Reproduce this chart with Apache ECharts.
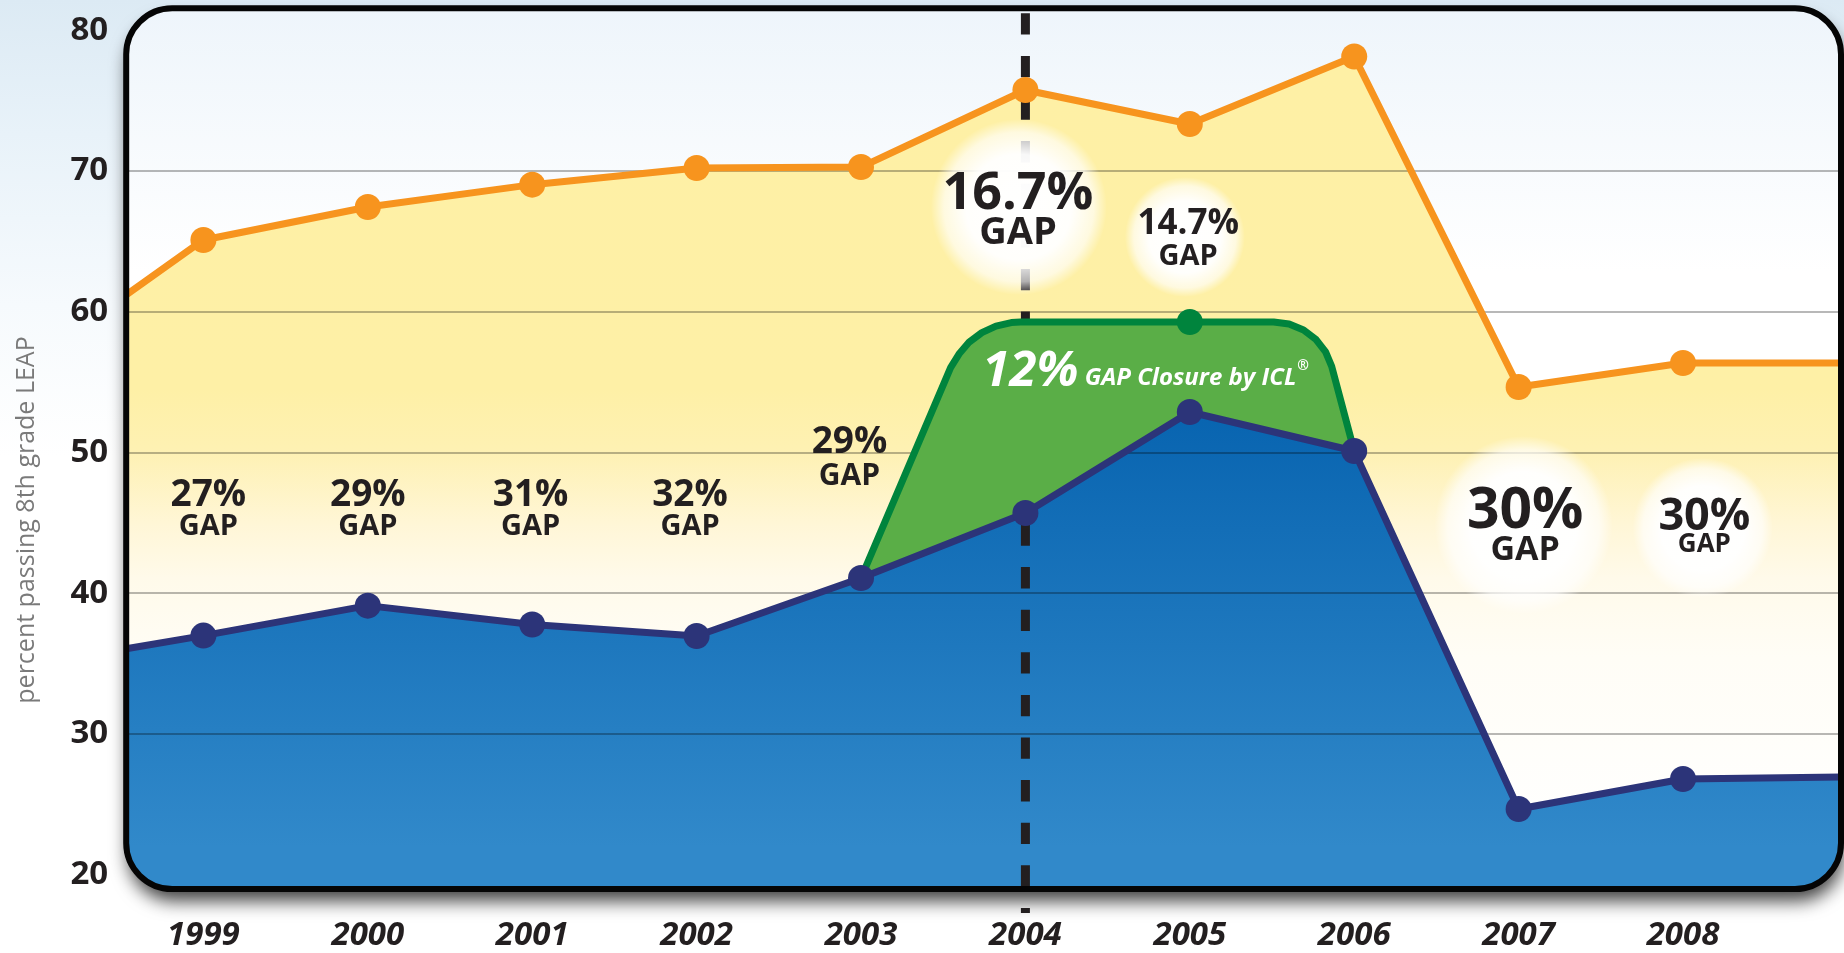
<!DOCTYPE html>
<html>
<head>
<meta charset="utf-8">
<script src="https://cdn.jsdelivr.net/npm/echarts@6/dist/echarts.min.js"></script>
<style>
html, body { margin: 0; padding: 0; }
body { background: linear-gradient(180deg, #dceaf4 0%, #e8f2f9 14%, #f6fafd 32%, #ffffff 48%); }
#c { width: 1844px; height: 953px; }
</style>
</head>
<body>
<div id="c"></div>
<script>
// ---------------- data ----------------
const years = [1999, 2000, 2001, 2002, 2003, 2004, 2005, 2006, 2007, 2008];
const upperValues = [65.1, 67.44, 69.03, 70.21, 70.28, 75.76, 73.34, 78.14, 54.65, 56.35];   // orange line
const lowerValues = [36.98, 39.11, 37.77, 36.95, 41.07, 45.69, 52.87, 50.1, 24.66, 26.79];   // blue line
const upperEdgeValues = [61.2, 56.35];   // where the orange line meets the left / right frame
const lowerEdgeValues = [36.05, 26.93];  // where the blue line meets the left / right frame
// green "gap closure" outline (year, value), from the 2003 blue point to the 2006 blue point
const closureX = [2003, 2003.545, 2003.596, 2003.658, 2003.735, 2003.821, 2003.914, 2003.97, 2005,
                  2005.51, 2005.604, 2005.692, 2005.768, 2005.826, 2005.863, 2006];
const closureY = [41.07, 56.03, 56.99, 57.84, 58.51, 58.98, 59.23, 59.27, 59.27,
                  59.27, 59.13, 58.7, 58.02, 57.14, 56.11, 50.1];
const closureDotYear = 2005;
const markerYear = 2004;
const yTickValues = [20, 30, 40, 50, 60, 70, 80];
const gridLineValues = [30, 40, 50, 60, 70];
const gapTexts = ['27%', '29%', '31%', '32%', '29%', '16.7%', '14.7%', '30%', '30%'];
const closureTexts = ['12%', 'GAP Closure by ICL', '®'];
const yAxisTitle = 'percent passing 8th grade LEAP';

// ---------------- layout / style ----------------
const FONT = "'Open Sans', 'Noto Sans', sans-serif";
const X_MIN = 1998.5304, X_MAX = 2008.961;
const Y_MIN = 18.97, Y_MAX = 81.564;
const AREA_BASE = 21.95;
const FRAME = { x: 126.2, y: 8.3, w: 1714.8, h: 880.7, r: 46 };
const TXT = '#231f20';

function withEdges(vals, edges) {
  const pts = [[X_MIN, edges[0]]];
  years.forEach((y, i) => pts.push([y, vals[i]]));
  pts.push([X_MAX, edges[1]]);
  return pts;
}
const upperData = withEdges(upperValues, upperEdgeValues);
const lowerData = withEdges(lowerValues, lowerEdgeValues);
const closureData = closureX.map((x, i) => [x, closureY[i]]);

// annotation placement (data coords) and font sizes
const gapPlace = [
  { x: 1999.03, y: 45.91, p: 37, g: 29, lp: 34, lg: 30 },
  { x: 2000, y: 45.91, p: 37, g: 29, lp: 34, lg: 30 },
  { x: 2000.99, y: 45.91, p: 37, g: 29, lp: 34, lg: 30 },
  { x: 2001.96, y: 45.91, p: 37, g: 29, lp: 34, lg: 30 },
  { x: 2002.93, y: 49.53, p: 37, g: 30, lp: 34, lg: 34 },
  { x: 2003.955, y: 67.16, p: 52, g: 38, lp: 44, lg: 34 },
  { x: 2004.99, y: 65.06, p: 35, g: 29, lp: 33, lg: 33 },
  { x: 2007.04, y: 44.63, p: 57, g: 34, lp: 44, lg: 32 },
  { x: 2008.13, y: 44.63, p: 45, g: 26, lp: 34, lg: 22 }
];
const glowPlace = [
  { x: 2003.96, y: 67.44, s: 176 },
  { x: 2004.97, y: 65.31, s: 120 },
  { x: 2007.03, y: 44.84, s: 178 },
  { x: 2008.12, y: 44.63, s: 140 }
];
const closurePlace = { x: 2003.736, y: 55.71 };

const G = echarts.graphic;
const yellowFill = new G.LinearGradient(0, 0, 0, 1, [
  { offset: 0, color: '#fef0a5' }, { offset: 0.42, color: '#fef0a6' },
  { offset: 0.5, color: '#fef1b3' }, { offset: 0.59, color: '#fff6d6' },
  { offset: 0.66, color: '#fffaea' }, { offset: 0.76, color: '#fffdf6' },
  { offset: 1, color: '#ffffff' }
]);
const blueFill = new G.LinearGradient(0, 0, 0, 1, [
  { offset: 0, color: '#0864b0' }, { offset: 1, color: '#3189ca' }
]);
const glowFill = new G.RadialGradient(0.5, 0.5, 0.5, [
  { offset: 0, color: 'rgba(255,255,255,1)' },
  { offset: 0.6, color: 'rgba(255,255,255,0.97)' },
  { offset: 0.85, color: 'rgba(255,255,255,0.65)' },
  { offset: 1, color: 'rgba(255,255,255,0)' }
]);
const frameFill = new G.LinearGradient(0, 0, 0, 1, [
  { offset: 0, color: '#eef5fb' }, { offset: 0.3, color: '#ffffff' },
  { offset: 0.9494, color: '#ffffff' }, { offset: 0.9495, color: '#3189ca' },
  { offset: 1, color: '#3189ca' }
]);

const dotSize = (v) => (Number.isInteger(v[0]) ? 26 : 0);

const option = {
  animation: false,
  backgroundColor: 'transparent',
  textStyle: { fontFamily: FONT },
  grid: { left: FRAME.x, right: 1844 - (FRAME.x + FRAME.w), top: FRAME.y, bottom: 953 - (FRAME.y + FRAME.h), containLabel: false, outerBoundsMode: 'none' },
  xAxis: {
    type: 'value', min: X_MIN, max: X_MAX, z: 3,
    axisLine: { show: false },
    axisTick: { show: false, customValues: years },
    splitLine: { show: false },
    axisLabel: {
      customValues: years, formatter: (v) => String(v), margin: 30,
      color: TXT, fontSize: 33, fontWeight: 'bold', fontStyle: 'italic', fontFamily: FONT
    }
  },
  yAxis: {
    type: 'value', min: Y_MIN, max: Y_MAX, z: 3,
    axisLine: { show: false },
    axisTick: { show: false, customValues: gridLineValues },
    splitLine: { show: true, lineStyle: { color: 'rgba(0,0,0,0.28)', width: 2 } },
    axisLabel: {
      customValues: yTickValues, formatter: (v) => String(v), margin: 18,
      color: TXT, fontSize: 33, fontWeight: 'bold', fontFamily: FONT
    }
  },
  graphic: [
    {
      type: 'rect', z: 0, silent: true,
      shape: { x: FRAME.x, y: FRAME.y, width: FRAME.w, height: FRAME.h, r: FRAME.r },
      style: { fill: frameFill, shadowBlur: 18, shadowColor: 'rgba(0,0,0,0.75)', shadowOffsetY: 12, shadowOffsetX: 2 }
    },
    {
      type: 'rect', z: 30, silent: true,
      shape: { x: FRAME.x, y: FRAME.y, width: FRAME.w, height: FRAME.h, r: FRAME.r },
      style: { fill: 'none', stroke: '#050505', lineWidth: 6 }
    },
    {
      type: 'text', z: 30, silent: true, x: 27, y: 520, rotation: Math.PI / 2,
      style: { text: yAxisTitle, fill: '#7a7a7a', fontSize: 25, fontFamily: FONT, align: 'center', verticalAlign: 'middle' }
    }
  ],
  series: [
    { // yellow area under orange line
      name: 'upperArea', type: 'line', z: 1, data: upperData, showSymbol: false, silent: true,
      lineStyle: { width: 0, opacity: 0 }, areaStyle: { color: yellowFill, opacity: 1, origin: AREA_BASE }
    },
    { // blue area under navy line
      name: 'lowerArea', type: 'line', z: 2, data: lowerData, showSymbol: false, silent: true,
      lineStyle: { width: 0, opacity: 0 }, areaStyle: { color: blueFill, opacity: 1, origin: AREA_BASE }
    },
    { // dashed 2004 marker line
      name: 'marker', type: 'line', z: 4, clip: false, silent: true, showSymbol: false,
      data: [[markerYear, 81.21], [markerYear, 17.26]],
      lineStyle: { color: TXT, width: 9, type: [21.3, 21.3], cap: 'butt' }
    },
    { // green gap-closure band
      name: 'closureBand', type: 'custom', z: 5, silent: true,
      data: [[closureX[0], closureY[0]]],
      renderItem: function (params, api) {
        const pts = closureData.map((p) => api.coord(p));
        const i0 = years.indexOf(closureX[0]);
        const i1 = years.indexOf(closureX[closureX.length - 1]);
        for (let i = i1; i >= i0; i--) pts.push(api.coord([years[i], lowerValues[i]]));
        return { type: 'polygon', shape: { points: pts }, style: { fill: '#5aae47' } };
      }
    },
    { // white glows behind gap labels
      name: 'glows', type: 'scatter', z: 6, silent: true, symbol: 'circle',
      data: glowPlace.map((g) => ({ value: [g.x, g.y], symbolSize: g.s })),
      itemStyle: { color: glowFill, opacity: 1 }
    },
    {
      name: 'closureLine', type: 'line', z: 7, data: closureData, silent: true,
      symbol: 'circle', symbolSize: (v) => (v[0] === closureDotYear ? 26 : 0), showSymbol: true,
      lineStyle: { color: '#00843d', width: 7, join: 'round' }, itemStyle: { color: '#00843d' }
    },
    {
      name: 'upper', type: 'line', z: 8, data: upperData, silent: true,
      symbol: 'circle', symbolSize: dotSize, showSymbol: true,
      lineStyle: { color: '#f7941e', width: 7 }, itemStyle: { color: '#f7941e' }
    },
    {
      name: 'lower', type: 'line', z: 9, data: lowerData, silent: true,
      symbol: 'circle', symbolSize: dotSize, showSymbol: true,
      lineStyle: { color: '#2c3479', width: 7 }, itemStyle: { color: '#2c3479' }
    },
    { // gap labels
      name: 'gapLabels', type: 'scatter', z: 10, silent: true, symbolSize: 1,
      itemStyle: { color: 'rgba(0,0,0,0)', opacity: 1 },
      data: gapPlace.map((g, i) => ({
        value: [g.x, g.y],
        label: {
          show: true, position: 'inside',
          formatter: '{p|' + gapTexts[i] + '}\n{g|GAP}',
          rich: {
            p: { fontSize: g.p, lineHeight: g.lp, fontWeight: 'bold', color: TXT, fontFamily: FONT, align: 'center' },
            g: { fontSize: g.g, lineHeight: g.lg, fontWeight: 'bold', color: TXT, fontFamily: FONT, align: 'center' }
          }
        }
      }))
    },
    { // closure label
      name: 'closureLabel', type: 'scatter', z: 10, silent: true, symbolSize: 1,
      itemStyle: { color: 'rgba(0,0,0,0)', opacity: 1 },
      data: [{
        value: [closurePlace.x, closurePlace.y],
        label: {
          show: true, position: 'right', distance: 0,
          formatter: '{a|' + closureTexts[0] + '}{b| ' + closureTexts[1] + '}{r|' + closureTexts[2] + '}',
          rich: {
            a: { fontSize: 49, lineHeight: 50, fontWeight: 'bold', fontStyle: 'italic', color: '#fff', fontFamily: FONT },
            b: { fontSize: 24, fontWeight: 'bold', fontStyle: 'italic', color: '#fff', fontFamily: FONT, padding: [13, 0, 0, 0] },
            r: { fontSize: 14, fontWeight: 'bold', color: '#fff', fontFamily: FONT, padding: [0, 0, 12, 1] }
          }
        }
      }]
    }
  ]
};

const chart = echarts.init(document.getElementById('c'), null, { renderer: 'canvas' });
chart.setOption(option);
</script>
</body>
</html>
